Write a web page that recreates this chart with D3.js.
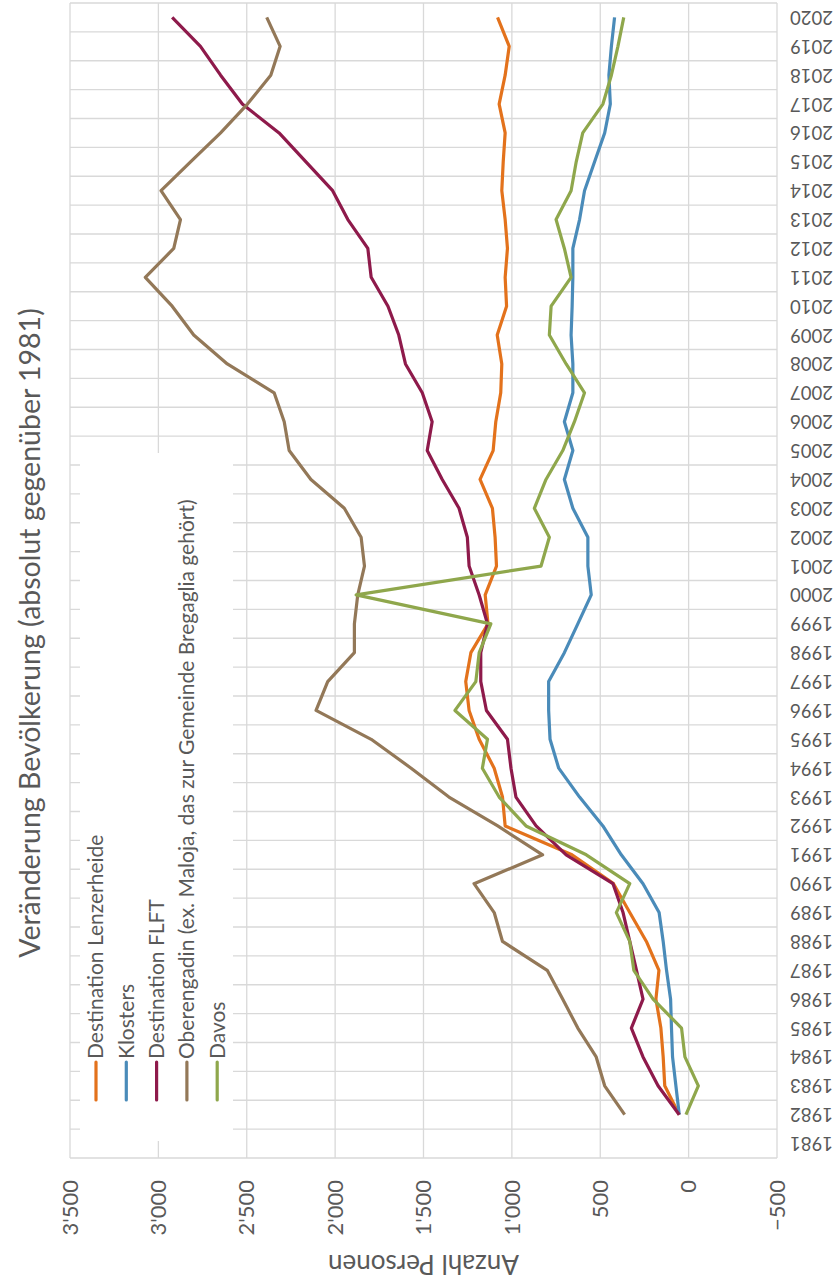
<!DOCTYPE html>
<html>
<head>
<meta charset="utf-8">
<script src="https://cdn.jsdelivr.net/npm/d3@7"></script>
<style>
  body { margin: 0; background: #fff; }
  text { font-family: Lato, "Open Sans", sans-serif; fill: #595959; }
</style>
</head>
<body>
<div id="chart"></div>
<script>
// categories (1981 is the baseline, series start in 1982)
var years = [1981, 1982, 1983, 1984, 1985, 1986, 1987, 1988, 1989, 1990,
  1991, 1992, 1993, 1994, 1995, 1996, 1997, 1998, 1999, 2000,
  2001, 2002, 2003, 2004, 2005, 2006, 2007, 2008, 2009, 2010,
  2011, 2012, 2013, 2014, 2015, 2016, 2017, 2018, 2019, 2020];

var valueTicks = [-500, 0, 500, 1000, 1500, 2000, 2500, 3000, 3500];

var seriesNames = [
  "Destination Lenzerheide",
  "Klosters",
  "Destination FLFT",
  "Oberengadin (ex. Maloja, das zur Gemeinde Bregaglia gehört)",
  "Davos"
];

// values 1982..2020
var lenzerheide = [53, 135, 144, 157, 185, 168, 239, 333, 425, 660,
  1038, 1053, 1100, 1185, 1242, 1261, 1232, 1135, 1151, 1087,
  1095, 1110, 1180, 1106, 1091, 1063, 1057, 1083, 1030, 1038,
  1025, 1038, 1057, 1049, 1038, 1072, 1038, 1015, 1081];

var klosters = [53, 72, 91, 97, 102, 125, 144, 167, 258, 381,
  485, 617, 735, 784, 792, 792, 703, 627, 551, 570,
  570, 655, 703, 655, 703, 655, 655, 665, 659, 655,
  655, 617, 589, 532, 475, 443, 451, 437, 419];

var flft = [53, 173, 258, 324, 258, 295, 333, 371, 428, 693,
  863, 977, 1005, 1025, 1144, 1176, 1176, 1138, 1185, 1242,
  1252, 1299, 1394, 1479, 1451, 1507, 1602, 1640, 1701, 1796,
  1815, 1928, 2014, 2165, 2317, 2525, 2648, 2762, 2922];

var oberengadin = [362, 475, 523, 627, 712, 800, 1053, 1100, 1214, 826,
  1080, 1356, 1570, 1796, 2108, 2042, 1891, 1891, 1872, 1834,
  1853, 1948, 2137, 2260, 2288, 2345, 2610, 2800, 2922, 3074,
  2913, 2875, 2985, 2818, 2648, 2496, 2364, 2311, 2387];

var davos = [15, -55, 21, 40, 201, 310, 333, 409, 333, 579,
  920, 1072, 1167, 1138, 1322, 1204, 1185, 1119, 1881, 835,
  788, 873, 807, 712, 646, 589, 693, 788, 778, 665,
  703, 750, 665, 636, 599, 485, 437, 400, 367];

var colors = ["#E3721C", "#4A8BB9", "#8E1A4B", "#937858", "#8FA74C"];

// chart is built landscape and turned a quarter turn
var W = 1288, H = 837;
var margin = { top: 70, right: 3, bottom: 60, left: 130 };

var svg = d3.select("#chart")
  .append("svg")
  .attr("width", H)
  .attr("height", W);

svg.append("rect").attr("width", H).attr("height", W).attr("fill", "#fff");

var g = svg.append("g")
  .attr("transform", "translate(0," + W + ") rotate(-90)");

var x = d3.scaleBand()
  .domain(years)
  .range([margin.left, W - margin.right])
  .paddingInner(0).paddingOuter(0);

var y = d3.scaleLinear()
  .domain([-500, 3500])
  .range([H - margin.bottom, margin.top]);

var gridColor = "#D9D9D9";

// category gridlines (between years)
var edges = years.map(function (d) { return x(d); }).concat([x.range()[1]]);
g.append("g")
  .selectAll("line")
  .data(edges)
  .enter()
  .append("line")
  .attr("x1", function (d) { return d; })
  .attr("x2", function (d) { return d; })
  .attr("y1", y(3500))
  .attr("y2", y(-500))
  .attr("stroke", gridColor)
  .attr("stroke-width", 1.3);

// value gridlines
g.append("g")
  .selectAll("line")
  .data(valueTicks)
  .enter()
  .append("line")
  .attr("x1", x.range()[0])
  .attr("x2", x.range()[1])
  .attr("y1", function (d) { return y(d); })
  .attr("y2", function (d) { return y(d); })
  .attr("stroke", gridColor)
  .attr("stroke-width", 1.3);

// value axis labels
var fmt = function (d) { return d3.format(",")(d).replace(/,/g, "'"); };
g.append("g")
  .selectAll("text")
  .data(valueTicks)
  .enter()
  .append("text")
  .attr("x", 108)
  .attr("y", function (d) { return y(d); })
  .attr("dy", "0.35em")
  .attr("text-anchor", "end")
  .style("font-size", "22px")
  .text(fmt);

// year labels, vertical
g.append("g")
  .selectAll("text")
  .data(years)
  .enter()
  .append("text")
  .attr("transform", function (d) {
    return "translate(" + (x(d) + x.bandwidth() / 2) + "," + 790 + ") rotate(-90)";
  })
  .attr("dy", "0.35em")
  .attr("text-anchor", "end")
  .style("font-size", "18.5px")
  .text(function (d) { return d; });

// axis title
g.append("text")
  .attr("transform", "translate(24," + (y(-500) + y(3500)) / 2 + ") rotate(-90)")
  .attr("dy", "0.35em")
  .attr("text-anchor", "middle")
  .style("font-size", "26px")
  .text("Anzahl Personen");

// chart title
g.append("text")
  .attr("x", 655)
  .attr("y", 30)
  .attr("dy", "0.35em")
  .attr("text-anchor", "middle")
  .style("font-size", "28.5px")
  .text("Veränderung Bevölkerung (absolut gegenüber 1981)");

// legend box (white, covers the grid)
g.append("rect")
  .attr("x", 147)
  .attr("y", 80)
  .attr("width", 835 - 147)
  .attr("height", 153)
  .attr("fill", "#fff");

var legend = g.append("g")
  .selectAll("g")
  .data(seriesNames)
  .enter()
  .append("g")
  .attr("transform", function (d, i) { return "translate(188," + (96 + i * 30.3) + ")"; });

legend.append("line")
  .attr("x1", 0)
  .attr("x2", 38)
  .attr("stroke", function (d, i) { return colors[i]; })
  .attr("stroke-width", 3.2)
  .attr("stroke-linecap", "round");

legend.append("text")
  .attr("x", 41)
  .attr("dy", "0.35em")
  .style("font-size", "21px")
  .text(function (d) { return d; });

// lines
var allSeries = [lenzerheide, klosters, flft, oberengadin, davos];
var line = d3.line()
  .x(function (d) { return x(d.year) + x.bandwidth() / 2; })
  .y(function (d) { return y(d.value); });

g.append("g")
  .selectAll("path")
  .data(allSeries)
  .enter()
  .append("path")
  .attr("d", function (s) {
    return line(s.map(function (v, i) { return { year: years[i + 1], value: v }; }));
  })
  .attr("fill", "none")
  .attr("stroke", function (d, i) { return colors[i]; })
  .attr("stroke-width", 3.2)
  .attr("stroke-linejoin", "round");
</script>
</body>
</html>
